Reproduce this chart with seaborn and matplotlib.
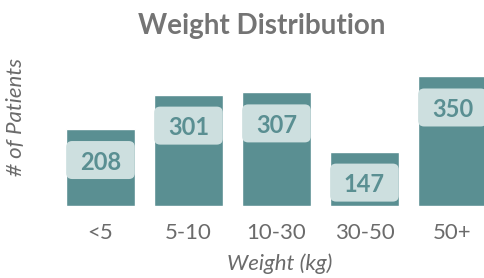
import seaborn as sns
import matplotlib.pyplot as plt
import pandas as pd
from matplotlib.patches import FancyBboxPatch

# data
categories = ['<5', '5-10', '10-30', '30-50', '50+']
patients = [208, 301, 307, 147, 350]

bar_color = '#5a8f92'
box_color = '#cddfdf'
grey = '#6b6b6b'

sns.set_style('white')
plt.rcParams['font.family'] = ['Lato', 'DejaVu Sans']

df = pd.DataFrame({'weight': categories, 'patients': patients})

fig = plt.figure(figsize=(4.84, 2.78), dpi=100)
ax = fig.add_axes([0.1167, 0.259, 0.909, 0.5058])

sns.barplot(data=df, x='weight', y='patients', color=bar_color, saturation=1,
            width=0.78, ax=ax)

ax.set_xlim(-0.5, 4.5)
ax.set_ylim(0, 380)

# px -> data conversion for the label boxes
px_y = 380 / (0.5058 * 278)
px_x = 5 / (0.909 * 484)
box_h = 38 * px_y
gap = 12 * px_y
w = 0.78
for i, v in enumerate(patients):
    top = v - gap
    patch = FancyBboxPatch((i - w / 2, top - box_h), w, box_h,
                           boxstyle=f'round,pad=0,rounding_size={6 * px_x}',
                           mutation_aspect=px_y / px_x,
                           facecolor=box_color, edgecolor='none', zorder=3)
    ax.add_patch(patch)
    ax.text(i, top - box_h / 2, str(v), ha='center', va='center_baseline',
            fontsize=17, fontweight='bold', color=bar_color, zorder=4)

sns.despine(ax=ax, left=True, bottom=True)
ax.set_yticks([])
ax.tick_params(axis='x', length=0, pad=12, labelsize=16, labelcolor=grey)

ax.set_xlabel('Weight (kg)', fontsize=16, style='italic', color=grey)
ax.set_ylabel('# of Patients', fontsize=16, style='italic', color=grey)
ax.xaxis.set_label_coords(0.508, -0.34)
ax.yaxis.set_label_coords(-0.07, 0.636)

fig.text(0.541, 0.905, 'Weight Distribution', ha='center', va='center',
         fontsize=20, fontweight='bold', color='#747474')

fig.savefig('out.png', dpi=100)
